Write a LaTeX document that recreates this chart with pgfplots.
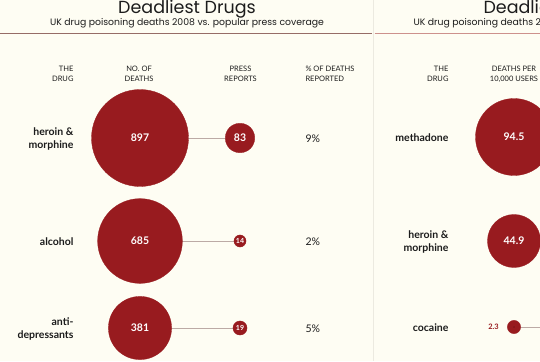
\documentclass[border=0pt]{standalone}
\usepackage{pgfplots}
\usepackage{pgfplotstable}
\pgfplotsset{compat=1.18}
\usepackage{fontspec}
\setmainfont{Lato}
\newfontfamily\titlefont{Poppins}
\definecolor{dred}{RGB}{152,27,31}
\definecolor{bg}{RGB}{254,253,243}
\definecolor{ink}{RGB}{28,28,28}
\definecolor{conncol}{RGB}{188,170,165}
\definecolor{ruleL}{RGB}{150,108,102}
\definecolor{ruleR}{RGB}{205,145,140}
\definecolor{sep}{RGB}{236,234,224}

% left panel: deaths (2008) and press reports
\pgfplotstableread{
x y v
140 138 897
140 241 685
140 328 381
}\deaths
\pgfplotstableread{
x y v
240 138 83
}\pressbig
\pgfplotstableread{
x y v
240 241 14
240 328 19
}\presssmall
% right panel: deaths per 10,000 users
\pgfplotstableread{
x y v
514 137 94.5
514 241 44.9
}\ratebig
\pgfplotstableread{
x y v
514 327 2.3
}\ratesmall

\pgfplotsset{
  bubble/.style={scatter, only marks, mark=*, point meta=\thisrow{v},
    visualization depends on={#1*sqrt(\thisrow{v}) \as \rad},
    scatter/@pre marker code/.code={\scope[mark size=\rad pt, fill=dred, draw=dred, line width=0.3pt]},
    scatter/@post marker code/.code={\endscope}},
  vlabel/.style={only marks, mark=*, mark size=0.01pt, mark options={draw=none, fill=none},
    point meta=\thisrow{v},
    nodes near coords={\pgfmathprintnumber[assume math mode=true]{\pgfplotspointmeta}},
    every node near coord/.append style={anchor=center, text=white, inner sep=0pt,
      font=\bfseries\fontsize{10.5}{12}\selectfont}},
  connline/.style={color=conncol, line width=0.9pt, no marks},
}

\newcommand\hdr[1]{\fontsize{7.5}{9}\selectfont #1}
\newcommand\lbl{\bfseries\fontsize{10.5}{12}\selectfont}

\begin{document}
\begin{tikzpicture}
\useasboundingbox (0,0) rectangle (540pt,361pt);
\clip (0,0) rectangle (540pt,361pt);
\fill[bg] (0,0) rectangle (540pt,361pt);
\begin{axis}[at={(0,0)}, anchor=south west,
  width=540pt, height=361pt, scale only axis,
  xmin=0, xmax=540, ymin=0, ymax=361, y dir=reverse,
  hide axis, clip=false, /pgf/number format/assume math mode=true]

% separators
\addplot[sep, line width=0.6pt, no marks] coordinates {(373,0) (373,361)};
\addplot[ruleL, line width=0.8pt, no marks] coordinates {(0,33.3) (372,33.3)};
\addplot[ruleR, line width=0.8pt, no marks] coordinates {(374.5,33.3) (540,33.3)};

% titles
\node[anchor=base, text=ink, font=\titlefont\fontsize{17.5}{19}\selectfont] at (axis cs:187,13.5) {Deadliest Drugs};
\node[anchor=base, text=ink, font=\titlefont\fontsize{9.3}{11}\selectfont] at (axis cs:187,25.5) {UK drug poisoning deaths 2008 vs. popular press coverage};
\node[anchor=base west, text=ink, font=\titlefont\fontsize{17.5}{19}\selectfont] at (axis cs:480,13.5) {Deadliest Drugs};
\node[anchor=base west, text=ink, font=\titlefont\fontsize{9.3}{11}\selectfont] at (axis cs:410,25.5) {UK drug poisoning deaths 2008 per 10,000 users};

% column headers (left)
\node[anchor=base east, text=ink] at (axis cs:77,71.5) {\hdr{THE}};
\node[anchor=base east, text=ink] at (axis cs:77,81) {\hdr{DRUG}};
\node[anchor=base, text=ink] at (axis cs:139,71.5) {\hdr{NO. OF}};
\node[anchor=base, text=ink] at (axis cs:139,81) {\hdr{DEATHS}};
\node[anchor=base, text=ink] at (axis cs:240.5,71.5) {\hdr{PRESS}};
\node[anchor=base, text=ink] at (axis cs:240.5,81) {\hdr{REPORTS}};
\node[anchor=base west, text=ink] at (axis cs:302,71.5) {\hdr{\% OF DEATHS}};
\node[anchor=base west, text=ink] at (axis cs:302,81) {\hdr{REPORTED}};
% column headers (right)
\node[anchor=base east, text=ink] at (axis cs:452,71.5) {\hdr{THE}};
\node[anchor=base east, text=ink] at (axis cs:452,81) {\hdr{DRUG}};
\node[anchor=base, text=ink] at (axis cs:514,71.5) {\hdr{DEATHS PER}};
\node[anchor=base, text=ink] at (axis cs:514,81) {\hdr{10,000 USERS}};

% drug labels (left)
\node[anchor=base east, text=ink] at (axis cs:77,135) {\lbl heroin \&};
\node[anchor=base east, text=ink] at (axis cs:77,148) {\lbl morphine};
\node[anchor=base east, text=ink] at (axis cs:77,245) {\lbl alcohol};
\node[anchor=base east, text=ink] at (axis cs:77,325) {\lbl anti-};
\node[anchor=base east, text=ink] at (axis cs:77,338) {\lbl depressants};
% drug labels (right)
\node[anchor=base east, text=ink] at (axis cs:452,141) {\lbl methadone};
\node[anchor=base east, text=ink] at (axis cs:452,238) {\lbl heroin \&};
\node[anchor=base east, text=ink] at (axis cs:452,251) {\lbl morphine};
\node[anchor=base east, text=ink] at (axis cs:452,331) {\lbl cocaine};

% percentages
\node[anchor=base west, text=ink, font=\fontsize{10.5}{12}\selectfont] at (axis cs:302,142) {9\%};
\node[anchor=base west, text=ink, font=\fontsize{10.5}{12}\selectfont] at (axis cs:302,245) {2\%};
\node[anchor=base west, text=ink, font=\fontsize{10.5}{12}\selectfont] at (axis cs:302,332) {5\%};

% connectors
\addplot[connline] coordinates {(140,138) (240,138)};
\addplot[connline] coordinates {(140,241) (240,241)};
\addplot[connline] coordinates {(140,328) (240,328)};
\addplot[connline] coordinates {(514,327) (600,327)};

% bubbles (area proportional to value)
\addplot[bubble=1.619] table[x=x, y=y] {\deaths};
\addplot[bubble=1.619] table[x=x, y=y] {\pressbig};
\addplot[bubble=1.619] table[x=x, y=y] {\presssmall};
\addplot[bubble=3.96] table[x=x, y=y] {\ratebig};
\addplot[bubble=4.4] table[x=x, y=y] {\ratesmall};

% value labels
\addplot[vlabel] table[x=x, y=y] {\deaths};
\addplot[vlabel] table[x=x, y=y] {\pressbig};
\addplot[vlabel, every node near coord/.append style={font=\bfseries\fontsize{7}{8}\selectfont}] table[x=x, y=y] {\presssmall};
\addplot[vlabel] table[x=x, y=y] {\ratebig};
\addplot[vlabel, every node near coord/.append style={anchor=east, text=dred, xshift=-15pt,
  font=\bfseries\fontsize{7.5}{8}\selectfont}] table[x=x, y=y] {\ratesmall};

\end{axis}
\end{tikzpicture}
\end{document}
